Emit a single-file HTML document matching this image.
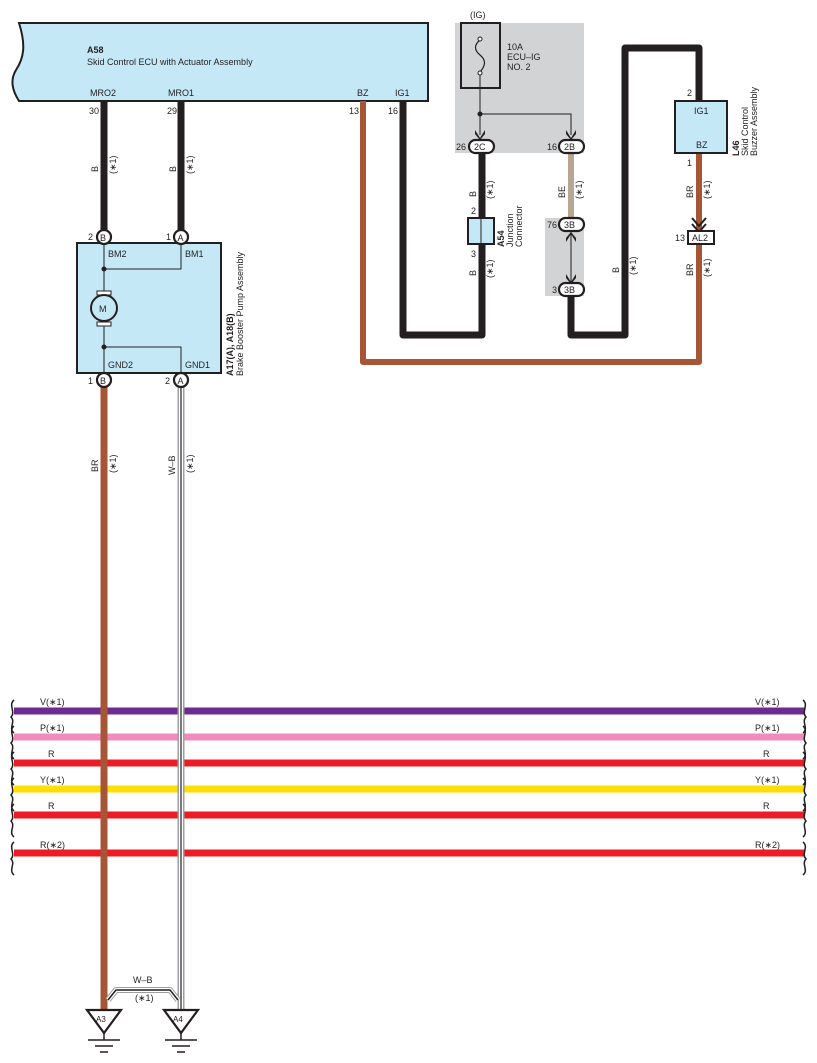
<!DOCTYPE html>
<html><head><meta charset="utf-8"><style>
html,body{margin:0;padding:0;background:#fff}
svg{display:block}
text{font-family:"Liberation Sans",sans-serif;fill:#231f20}
</style></head><body>
<svg width="817" height="1063" viewBox="0 0 817 1063" xmlns="http://www.w3.org/2000/svg">
<!-- ECU box -->
<path d="M19,23 L428,23 L428,101 L19,101 C12,90 10,80 16,70 C24,58 26,45 19,23 Z" fill="#c5e8f7" stroke="#231f20" stroke-width="2"/>
<text x="87" y="53" font-size="9" font-weight="bold">A58</text>
<text x="87" y="65" font-size="9">Skid Control ECU with Actuator Assembly</text>
<text x="90" y="96" font-size="9">MRO2</text>
<text x="168" y="96" font-size="9">MRO1</text>
<text x="357" y="96" font-size="9">BZ</text>
<text x="395" y="96" font-size="9">IG1</text>
<text x="89" y="114" font-size="9">30</text>
<text x="167" y="114" font-size="9">29</text>
<text x="349" y="114" font-size="9">13</text>
<text x="388" y="114" font-size="9">16</text>

<!-- gray boxes -->
<rect x="455" y="23" width="129" height="130" fill="#d1d3d4"/>
<rect x="545" y="218" width="39" height="78" fill="#d1d3d4"/>
<text x="470" y="18" font-size="9">(IG)</text>
<rect x="461" y="23" width="39" height="65" fill="none" stroke="#231f20" stroke-width="2"/>
<path d="M480,40 C474,45 474,50 480,55 C486,60 486,65 480,72" fill="none" stroke="#231f20" stroke-width="1.2"/>
<circle cx="480" cy="39" r="2" fill="#fff" stroke="#231f20"/>
<circle cx="480" cy="73" r="2" fill="#fff" stroke="#231f20"/>
<text x="507" y="50" font-size="9">10A</text>
<text x="507" y="60" font-size="9">ECU–IG</text>
<text x="507" y="70" font-size="9">NO. 2</text>
<path d="M480,75 L480,135 M480,114 L571,114 L571,135" fill="none" stroke="#231f20" stroke-width="1"/>
<circle cx="480" cy="114" r="2.5" fill="#231f20"/>
<path d="M475,130 L480,138 L485,130 L485,134 L480,140 L475,134Z" fill="#231f20"/>
<path d="M566,130 L571,138 L576,130 L576,134 L571,140 L566,134Z" fill="#231f20"/>

<!-- wires -->
<g fill="none" stroke-linejoin="round" stroke-linecap="butt">
<path d="M104,101 L104,232" stroke="#231f20" stroke-width="7"/>
<path d="M181,101 L181,232" stroke="#231f20" stroke-width="7"/>
<path d="M363,101 L363,362 L699,362 L699,153" stroke="#a65536" stroke-width="6"/>
<path d="M403,101 L403,335 L482,335 L482,152" stroke="#231f20" stroke-width="7"/>
<path d="M571,152 L571,218" stroke="#b9a692" stroke-width="6"/>
<path d="M571,295 L571,335 L625,335 L625,48 L699,48 L699,100" stroke="#231f20" stroke-width="7"/>
<path d="M571,232 L571,282" stroke="#231f20" stroke-width="1"/>
<!-- horizontal bus -->
<path d="M14,711 L805,711" stroke="#6e2b8f" stroke-width="7"/>
<path d="M14,737 L805,737" stroke="#f18bbd" stroke-width="7"/>
<path d="M14,763 L805,763" stroke="#ed1c24" stroke-width="7"/>
<path d="M14,789 L805,789" stroke="#ffde00" stroke-width="7"/>
<path d="M14,815 L805,815" stroke="#ed1c24" stroke-width="7"/>
<path d="M14,853 L805,853" stroke="#ed1c24" stroke-width="7"/>
<path d="M104,386 L104,1012" stroke="#a65536" stroke-width="7"/>
<path d="M181,386 L181,1012" stroke="#9d9fa2" stroke-width="7"/>
<path d="M181,386 L181,1012" stroke="#fff" stroke-width="4"/>
<path d="M181,386 L181,1012" stroke="#231f20" stroke-width="1.2"/>
<path d="M108,1000 L116,990 L170,990 L178,1000" stroke="#9d9fa2" stroke-width="6"/>
<path d="M108,1000 L116,990 L170,990 L178,1000" stroke="#fff" stroke-width="4"/>
<path d="M108,1000 L116,990 L170,990 L178,1000" stroke="#231f20" stroke-width="1.5"/>
</g>
<!-- bus braces -->
<g fill="none" stroke="#231f20" stroke-width="1.5">
<path d="M14,700 C8,705 16,712 11,717 C16,722 8,728 14,733"/>
<path d="M14,726 C8,731 16,738 11,743 C16,748 8,754 14,759"/>
<path d="M14,752 C8,757 16,764 11,769 C16,774 8,780 14,785"/>
<path d="M14,778 C8,783 16,790 11,795 C16,800 8,806 14,811"/>
<path d="M14,804 C8,809 16,816 11,821 C16,826 8,832 14,837"/>
<path d="M14,842 C8,847 16,854 11,859 C16,864 8,870 14,875"/>
<path d="M803,700 C809,705 801,712 806,717 C801,722 809,728 803,733"/>
<path d="M803,726 C809,731 801,738 806,743 C801,748 809,754 803,759"/>
<path d="M803,752 C809,757 801,764 806,769 C801,774 809,780 803,785"/>
<path d="M803,778 C809,783 801,790 806,795 C801,800 809,806 803,811"/>
<path d="M803,804 C809,809 801,816 806,821 C801,826 809,832 803,837"/>
<path d="M803,842 C809,847 801,854 806,859 C801,864 809,870 803,875"/>
</g>
<g font-size="9">
<text x="40" y="705">V(∗1)</text><text x="40" y="731">P(∗1)</text><text x="48" y="757">R</text>
<text x="40" y="783">Y(∗1)</text><text x="48" y="809">R</text><text x="40" y="848">R(∗2)</text>
<text x="755" y="705">V(∗1)</text><text x="755" y="731">P(∗1)</text><text x="763" y="757">R</text>
<text x="755" y="783">Y(∗1)</text><text x="763" y="809">R</text><text x="755" y="848">R(∗2)</text>
</g>

<!-- pump box -->
<rect x="77" y="243" width="144" height="130" fill="#c5e8f7" stroke="#231f20" stroke-width="2"/>
<g fill="none" stroke="#231f20" stroke-width="1">
<path d="M104,243 L104,296 M104,269 L181,269 L181,243 M104,326 L104,373 M104,347 L181,347 L181,373"/>
</g>
<circle cx="104" cy="269" r="2.5" fill="#231f20"/><circle cx="104" cy="347" r="2.5" fill="#231f20"/>
<rect x="97" y="291" width="14" height="4" fill="#fff" stroke="#231f20"/>
<rect x="97" y="322" width="14" height="4" fill="#fff" stroke="#231f20"/>
<circle cx="104" cy="308" r="13" fill="#c5e8f7" stroke="#231f20" stroke-width="2"/>
<text x="99" y="312" font-size="9">M</text>
<text x="108" y="257" font-size="9">BM2</text><text x="185" y="257" font-size="9">BM1</text>
<text x="108" y="368" font-size="9">GND2</text><text x="185" y="368" font-size="9">GND1</text>
<text transform="translate(233,376) rotate(-90)" font-size="9" font-weight="bold">A17(A), A18(B)</text>
<text transform="translate(243,376) rotate(-90)" font-size="9">Brake Booster Pump Assembly</text>

<!-- round connectors -->
<g font-size="9" stroke-width="2.2">
<circle cx="104" cy="237" r="7" fill="#fff" stroke="#231f20"/><text x="100" y="241" font-size="9">B</text><text x="88" y="240">2</text>
<circle cx="181" cy="237" r="7" fill="#fff" stroke="#231f20"/><text x="177.5" y="241" font-size="9">A</text><text x="166" y="240">1</text>
<circle cx="104" cy="380" r="7" fill="#fff" stroke="#231f20"/><text x="100" y="384" font-size="9">B</text><text x="88" y="384">1</text>
<circle cx="181" cy="380" r="7" fill="#fff" stroke="#231f20"/><text x="177.5" y="384" font-size="9">A</text><text x="165" y="384">2</text>
</g>
<!-- oval connectors -->
<g font-size="9" stroke-width="2.2">
<rect x="469" y="140" width="25" height="13" rx="6.5" fill="#fff" stroke="#231f20"/><text x="474" y="150">2C</text><text x="456" y="150">26</text>
<rect x="559" y="140" width="25" height="13" rx="6.5" fill="#fff" stroke="#231f20"/><text x="564" y="150">2B</text><text x="547" y="150">16</text>
<rect x="559" y="218" width="25" height="13" rx="6.5" fill="#fff" stroke="#231f20"/><text x="564" y="228">3B</text><text x="547" y="228">76</text>
<rect x="559" y="283" width="25" height="13" rx="6.5" fill="#fff" stroke="#231f20"/><text x="564" y="293">3B</text><text x="552" y="293">3</text>
</g>
<path d="M566,242 L571,234 L576,242 L576,238 L571,232 L566,238Z" fill="#231f20"/>
<path d="M566,274 L571,282 L576,274 L576,278 L571,284 L566,278Z" fill="#231f20"/>

<!-- A54 -->
<rect x="468" y="218" width="26" height="26" fill="#c5e8f7" stroke="#231f20" stroke-width="2"/>
<path d="M481,218 L481,244" stroke="#231f20" stroke-width="1"/>
<text x="471" y="214" font-size="9">2</text><text x="471" y="257" font-size="9">3</text>
<text transform="translate(504,247) rotate(-90)" font-size="9" font-weight="bold">A54</text>
<text transform="translate(513,247) rotate(-90)" font-size="9">Junction</text>
<text transform="translate(522,247) rotate(-90)" font-size="9">Connector</text>

<!-- L46 -->
<rect x="675" y="101" width="52" height="52" fill="#c5e8f7" stroke="#231f20" stroke-width="2"/>
<text x="694" y="114" font-size="9">IG1</text><text x="696" y="148" font-size="9">BZ</text>
<text x="687" y="96" font-size="9">2</text><text x="687" y="166" font-size="9">1</text>
<text transform="translate(739,156) rotate(-90)" font-size="9" font-weight="bold">L46</text>
<text transform="translate(748,156) rotate(-90)" font-size="9">Skid Control</text>
<text transform="translate(757,156) rotate(-90)" font-size="9">Buzzer Assembly</text>
<!-- AL2 -->
<path d="M692,218 L699,226 L706,218 M692,224 L699,232 L706,224" fill="none" stroke="#231f20" stroke-width="2"/>
<rect x="688" y="231" width="26" height="13" fill="#fff" stroke="#231f20" stroke-width="2"/>
<text x="692" y="241" font-size="9">AL2</text><text x="675" y="241" font-size="9">13</text>

<!-- wire labels -->
<g font-size="9">
<text transform="translate(98,172) rotate(-90)">B</text><text transform="translate(116,174) rotate(-90)" fill="#58595b">(∗1)</text>
<text transform="translate(176,172) rotate(-90)">B</text><text transform="translate(193,174) rotate(-90)" fill="#58595b">(∗1)</text>
<text transform="translate(476,197) rotate(-90)">B</text><text transform="translate(493,199) rotate(-90)" fill="#58595b">(∗1)</text>
<text transform="translate(476,276) rotate(-90)">B</text><text transform="translate(493,278) rotate(-90)" fill="#58595b">(∗1)</text>
<text transform="translate(565,198) rotate(-90)">BE</text><text transform="translate(582,199) rotate(-90)" fill="#58595b">(∗1)</text>
<text transform="translate(619,273) rotate(-90)">B</text><text transform="translate(636,275) rotate(-90)" fill="#58595b">(∗1)</text>
<text transform="translate(693,198) rotate(-90)">BR</text><text transform="translate(710,199) rotate(-90)" fill="#58595b">(∗1)</text>
<text transform="translate(693,276) rotate(-90)">BR</text><text transform="translate(710,277) rotate(-90)" fill="#58595b">(∗1)</text>
<text transform="translate(98,472) rotate(-90)">BR</text><text transform="translate(116,473) rotate(-90)" fill="#58595b">(∗1)</text>
<text transform="translate(175,475) rotate(-90)">W–B</text><text transform="translate(193,473) rotate(-90)" fill="#58595b">(∗1)</text>
<text x="133" y="983">W–B</text><text x="135" y="1001" fill="#58595b">(∗1)</text>
</g>

<!-- grounds -->
<g stroke="#231f20" stroke-width="2.2" fill="#fff">
<path d="M87,1010 L121,1010 L104,1033 Z"/>
<path d="M164,1010 L198,1010 L181,1033 Z"/>
</g>
<g stroke="#231f20" stroke-width="1.5">
<path d="M104,1033 L104,1040 M88,1040 L120,1040 M95,1046 L113,1046 M100,1052 L108,1052"/>
<path d="M181,1033 L181,1040 M165,1040 L197,1040 M172,1046 L190,1046 M177,1052 L185,1052"/>
</g>
<text x="96" y="1022" font-size="8">A3</text>
<text x="173" y="1022" font-size="8">A4</text>
</svg>
</body></html>
